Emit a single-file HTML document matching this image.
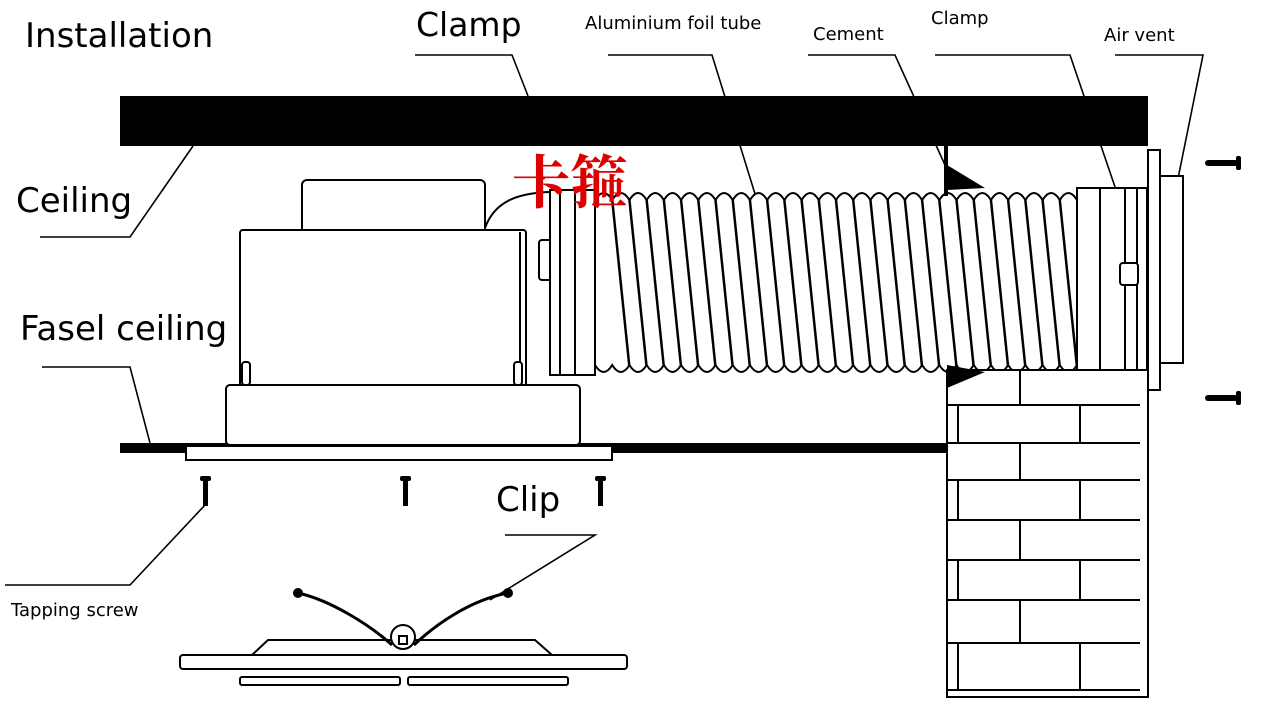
<!DOCTYPE html>
<html><head><meta charset="utf-8"><style>
html,body{margin:0;padding:0;background:#fff;width:1262px;height:705px;overflow:hidden}
svg{display:block}
text{font-family:"DejaVu Sans","Liberation Sans",sans-serif;fill:#000}
</style></head><body>
<svg id="s" width="1262" height="705" viewBox="0 0 1262 705" xmlns="http://www.w3.org/2000/svg">
<rect width="1262" height="705" fill="#fff"/>
<rect x="120" y="96" width="1028" height="50" fill="#000"/>
<text x="25" y="47" font-size="34">Installation</text>
<text x="416" y="36" font-size="33">Clamp</text>
<text x="585" y="29" font-size="18">Aluminium foil tube</text>
<text x="813" y="40" font-size="18">Cement</text>
<text x="931" y="24" font-size="18">Clamp</text>
<text x="1104" y="41" font-size="18">Air vent</text>
<text x="16" y="212" font-size="34">Ceiling</text>
<text x="20" y="340" font-size="34">Fasel ceiling</text>
<text x="496" y="511" font-size="34">Clip</text>
<text x="11" y="616" font-size="18">Tapping screw</text>
<g stroke="#000" stroke-width="1.6" fill="none">
<polyline points="415,55 512,55 528,96"/>
<polyline points="608,55 712,55 760,210"/>
<polyline points="808,55 895,55 945,165"/>
<polyline points="935,55 1070,55 1128,225"/>
<polyline points="1115,55 1203,55 1168,228"/>
<polyline points="40,237 130,237 193,146"/>
<polyline points="42,367 130,367 150,443"/>
<polyline points="5,585 130,585 205,505"/>
<polyline points="505,535 595,535 490,600"/>
</g>
<rect x="120" y="443" width="828" height="10" fill="#000"/>
<g stroke="#000" stroke-width="2" fill="#fff">
<rect x="302" y="180" width="183" height="55" rx="5"/>
<rect x="240" y="230" width="286" height="158" rx="3"/>
<line x1="520" y1="232" x2="520" y2="385"/>
<rect x="226" y="385" width="354" height="60" rx="4"/>
<rect x="186" y="446" width="426" height="14" />
<rect x="242" y="362" width="8" height="23" rx="3"/>
<rect x="514" y="362" width="8" height="23" rx="3"/>
<rect x="539" y="240" width="13" height="40" rx="3"/>
<path d="M485,228 C495,200 520,193 550,192" fill="none"/>
</g>
<g fill="#000">
<rect x="203" y="478" width="5" height="28"/><rect x="200" y="476" width="11" height="5" rx="2"/>
<rect x="403" y="478" width="5" height="28"/><rect x="400" y="476" width="11" height="5" rx="2"/>
<rect x="598" y="478" width="5" height="28"/><rect x="595" y="476" width="11" height="5" rx="2"/>
<rect x="1205" y="160" width="33" height="6" rx="3"/><rect x="1236" y="156" width="5" height="14" rx="2"/>
<rect x="1205" y="395" width="33" height="6" rx="3"/><rect x="1236" y="391" width="5" height="14" rx="2"/>
</g>
<g stroke="#000" stroke-width="2" fill="#fff">
<rect x="550" y="190" width="45" height="185"/>
<line x1="560" y1="190" x2="560" y2="375"/>
<line x1="575" y1="190" x2="575" y2="375"/>
</g>
<g id="tube" stroke="#000" stroke-width="2" fill="#fff"></g>
<g stroke="#000" stroke-width="2" fill="#fff">
<rect x="1077" y="188" width="70" height="182"/>
<line x1="1100" y1="188" x2="1100" y2="370"/>
<line x1="1125" y1="188" x2="1125" y2="370"/>
<line x1="1137" y1="188" x2="1137" y2="370"/>
<rect x="1120" y="263" width="18" height="22" rx="3"/>
<rect x="1148" y="150" width="12" height="240"/>
<rect x="1160" y="176" width="23" height="187"/>
</g>
<g id="wall" stroke="#000" stroke-width="2" fill="#fff">
<rect x="947" y="370" width="201" height="327"/>
</g>
<g fill="#000">
<polygon points="947,165 947,190 985,188"/>
<polygon points="947,365 947,388 985,372"/>
<rect x="944" y="146" width="4" height="50"/>
</g>
<text x="512" y="203" font-size="58" font-weight="bold" style="font-family:'Noto Serif CJK SC','Noto Sans CJK SC',serif;fill:#d00">卡箍</text>
<g stroke="#000" stroke-width="2" fill="#fff">
<path d="M252,655 L268,640 L535,640 L552,655 Z"/>
<rect x="180" y="655" width="447" height="14" rx="3"/>
<rect x="240" y="677" width="160" height="8" rx="2"/>
<rect x="408" y="677" width="160" height="8" rx="2"/>
<circle cx="403" cy="637" r="12"/>
<rect x="399" y="636" width="8" height="8"/>
</g>
<g stroke="#000" stroke-width="3" fill="none">
<path d="M298,593 C330,600 370,625 392,645"/>
<path d="M508,593 C470,600 435,625 414,645"/>
</g>
<circle cx="298" cy="593" r="5" fill="#000"/>
<circle cx="508" cy="593" r="5" fill="#000"/>
</svg>
<script>
var ns="http://www.w3.org/2000/svg";
var t=document.getElementById("tube");
function el(n,a,p){var e=document.createElementNS(ns,n);for(var k in a)e.setAttribute(k,a[k]);p.appendChild(e);return e;}
var x0=595,x1=1077,n=28,p=(x1-x0)/n,i;
var d="M"+x0+",200 ";
for(i=0;i<n;i++){var x=x0+i*p;d+="Q"+(x+p/2)+",186 "+(x+p)+",200 ";}
d+="L"+x1+",365 ";
for(i=0;i<n;i++){var x=x1-i*p;d+="Q"+(x-p/2)+",379 "+(x-p)+",365 ";}
d+="Z";
el("path",{d:d},t);
for(i=1;i<n;i++){var x=x0+i*p;el("line",{x1:x,y1:200,x2:Math.min(x+17,x1),y2:365,"stroke-width":2.5},t);}
var w=document.getElementById("wall");
var ys=[370,405,443,480,520,560,600,643,690];
for(var i=1;i<ys.length;i++){
 el("line",{x1:947,y1:ys[i],x2:1140,y2:ys[i]},w);
 if(i%2==1){el("line",{x1:1020,y1:ys[i-1],x2:1020,y2:ys[i]},w);}
 else{el("line",{x1:958,y1:ys[i-1],x2:958,y2:ys[i]},w);el("line",{x1:1080,y1:ys[i-1],x2:1080,y2:ys[i]},w);}
}
</script>
</body></html>
